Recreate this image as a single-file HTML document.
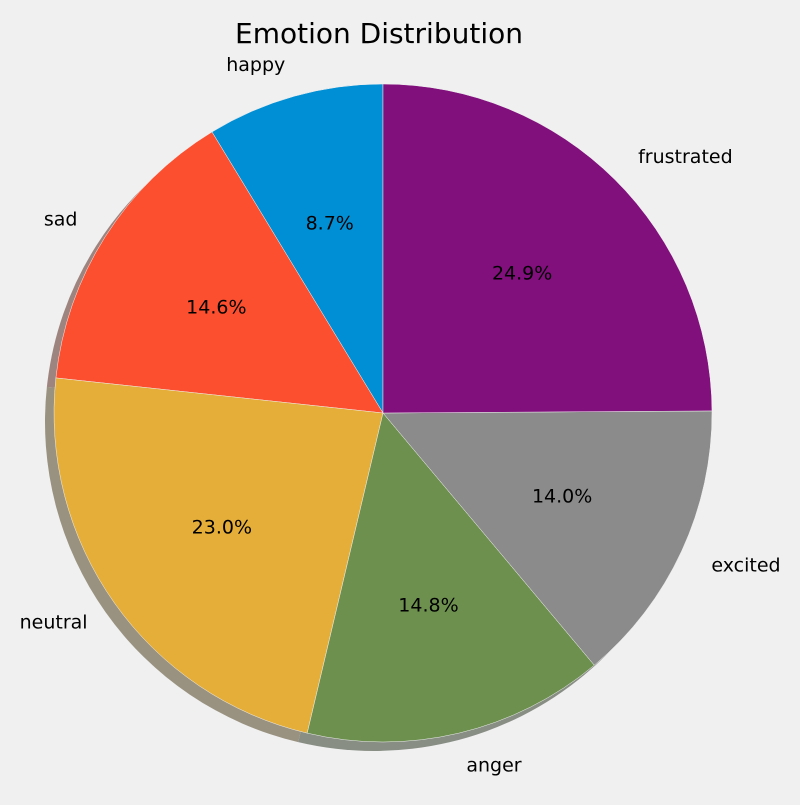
<!DOCTYPE html>
<html><head><meta charset="utf-8"><style>
html,body{margin:0;padding:0;background:#f0f0f0;}
svg text{font-family:"DejaVu Sans","Liberation Sans",sans-serif;}
</style></head><body>
<svg id="chart" width="800" height="800" viewBox="0 0 800 800">
<rect width="800" height="800" fill="#f0f0f0"/>
<text x="379" y="43" font-size="28" text-anchor="middle" fill="#000">Emotion Distribution</text>
<g id="shadows"></g>
<g id="wedges"></g>
<g id="labels"></g>
</svg>
<script>
const categories = ["happy","sad","neutral","anger","excited","frustrated"];
const values = [8.7,14.6,23.0,14.8,14.0,24.9];
const colors = ["#008fd5","#fc4f30","#e5ae38","#6d904f","#8b8b8b","#810f7c"];
const cx=383, cy=413, R=329, sh=9;
const NS="http://www.w3.org/2000/svg";
const total=values.reduce((a,b)=>a+b,0);
function pt(a,r){return [cx+r*Math.cos(a*Math.PI/180), cy-r*Math.sin(a*Math.PI/180)];}
function wedgePath(a0,a1,dx,dy){
  const p0=pt(a0,R),p1=pt(a1,R);
  const large=(a1-a0)>180?1:0;
  return `M${cx+dx},${cy+dy} L${p0[0]+dx},${p0[1]+dy} A${R},${R} 0 ${large} 0 ${p1[0]+dx},${p1[1]+dy} Z`;
}
function shade(hex){
  const n=parseInt(hex.slice(1),16);
  const c=[(n>>16)&255,(n>>8)&255,n&255].map(v=>Math.round(0.3*v*0.5+240*0.5));
  return `rgb(${c.join(',')})`;
}
const sG=document.getElementById('shadows'),wG=document.getElementById('wedges'),lG=document.getElementById('labels');
let a=90;
values.forEach((v,i)=>{
  const span=v/total*360, a0=a, a1=a+span, mid=a+span/2;
  const s=document.createElementNS(NS,'path');
  s.setAttribute('d',wedgePath(a0,a1,-sh,sh));
  s.setAttribute('fill',shade(colors[i]));
  
  
  sG.appendChild(s);
  const w=document.createElementNS(NS,'path');
  w.setAttribute('d',wedgePath(a0,a1,0,0));
  w.setAttribute('fill',colors[i]);
  w.setAttribute('stroke','#f0f0f0');
  w.setAttribute('stroke-width','0.5');
  
  
  wG.appendChild(w);
  const lp=pt(mid,R*1.1);
  const t=document.createElementNS(NS,'text');
  t.setAttribute('x',lp[0]);t.setAttribute('y',lp[1]+6.5);
  t.setAttribute('font-size','19');
  t.setAttribute('text-anchor',Math.cos(mid*Math.PI/180)>0?'start':'end');
  t.textContent=categories[i];
  
  
  lG.appendChild(t);
  const pp=pt(mid,R*0.6);
  const p=document.createElementNS(NS,'text');
  p.setAttribute('x',pp[0]);p.setAttribute('y',pp[1]+6.5);
  p.setAttribute('font-size','19');
  p.setAttribute('text-anchor','middle');
  p.textContent=(v/total*100).toFixed(1)+'%';
  
  
  lG.appendChild(p);
  a=a1;
});
</script>
</body></html>
